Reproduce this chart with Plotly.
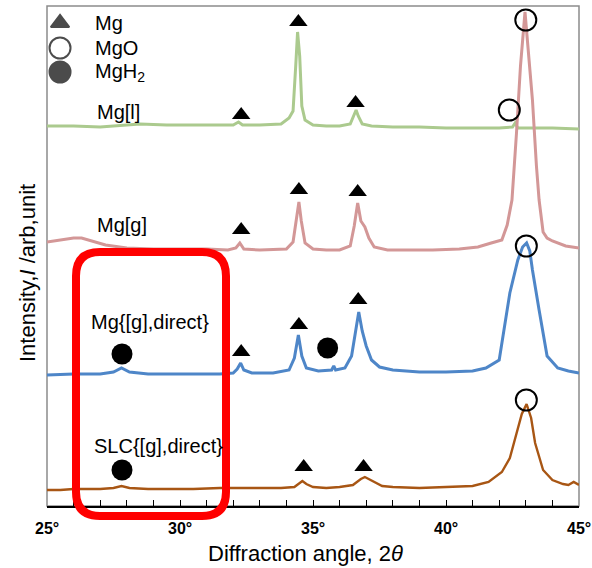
import plotly.graph_objects as go

# ---- data (2θ in degrees, intensity in arbitrary offset units) ----
mgl_x = [25.0, 26.0, 27.0, 27.5, 28.5, 29.5, 30.5, 31.5, 32.0, 32.2, 32.35, 33.0, 33.8, 34.1, 34.25, 34.35, 34.42, 34.5, 34.58, 34.7, 35.0, 35.5, 36.0, 36.4, 36.55, 36.62, 36.7, 36.85, 37.2, 38.0, 39.0, 40.0, 41.0, 42.0, 42.5, 42.6, 42.7, 43.5, 44.0, 45.0]
mgl_y = [380, 380, 379, 380, 382, 381, 381, 381, 381, 384, 381, 381, 382, 388, 395, 440, 474, 450, 400, 386, 381, 380, 380, 382, 392, 396, 390, 382, 380, 379, 379, 378, 378, 378, 379, 383, 378, 378, 378, 377]

mgg_x = [25.0, 25.5, 26.0, 26.3, 26.8, 27.2, 28.0, 29.0, 30.0, 31.0, 31.8, 32.1, 32.25, 32.4, 33.0, 34.0, 34.25, 34.38, 34.47, 34.56, 34.7, 35.0, 35.5, 36.0, 36.4, 36.55, 36.68, 36.8, 36.95, 37.1, 37.3, 37.8, 38.5, 39.5, 40.5, 41.2, 41.7, 42.1, 42.3, 42.48, 42.65, 42.8, 42.97, 43.15, 43.25, 43.4, 43.5, 43.65, 43.8, 44.0, 44.5, 45.0]
mgg_y = [264, 266, 268, 268, 264, 261, 258, 257, 257, 257, 256, 258, 263, 257, 256, 257, 264, 285, 304, 285, 263, 257, 256, 256, 260, 280, 303, 285, 279, 268, 259, 256, 256, 256, 257, 259, 263, 266, 281, 306, 373, 440, 494, 440, 406, 340, 306, 274, 268, 265, 260, 258]

mgd_x = [25.0, 26.0, 27.0, 27.5, 27.8, 28.1, 28.8, 29.5, 30.5, 31.5, 32.0, 32.15, 32.28, 32.4, 32.7, 33.5, 34.1, 34.3, 34.45, 34.58, 34.75, 35.2, 35.7, 35.78, 35.85, 36.2, 36.45, 36.6, 36.72, 36.85, 37.0, 37.2, 37.5, 38.0, 39.0, 40.0, 41.0, 41.5, 42.0, 42.4, 42.7, 42.88, 43.03, 43.15, 43.25, 43.5, 43.8, 44.2, 44.6, 45.0]
mgd_y = [131, 132, 132, 134, 138, 134, 132, 132, 132, 132, 133, 137, 143, 136, 133, 133, 136, 148, 171, 150, 138, 135, 136, 140, 136, 138, 150, 175, 194, 175, 160, 146, 139, 136, 134, 134, 135, 138, 146, 213, 246, 259, 263, 255, 236, 196, 150, 138, 135, 133]

slc_x = [25.0, 25.5, 26.0, 27.0, 27.5, 27.8, 28.1, 28.8, 29.5, 30.5, 31.5, 32.3, 33.0, 33.8, 34.3, 34.45, 34.6, 34.75, 35.0, 35.5, 36.0, 36.5, 36.8, 36.95, 37.1, 37.3, 37.6, 38.0, 39.0, 40.0, 41.0, 41.6, 42.1, 42.4, 42.65, 42.85, 43.03, 43.2, 43.35, 43.65, 44.0, 44.4, 44.6, 44.8, 45.0]
slc_y = [16, 16, 17, 17, 18, 20, 18, 17, 17, 17, 18, 18, 18, 18, 19, 22, 25, 22, 19, 18, 19, 21, 27, 29, 27, 24, 20, 19, 18, 19, 20, 24, 34, 48, 73, 92, 102, 88, 63, 36, 26, 22, 21, 24, 21]

# phase markers
mg_mark_x = [32.3, 34.45, 36.6, 32.3, 34.47, 36.68, 32.3, 34.47, 36.7, 34.65, 36.9]
mg_mark_y = [391, 484, 403, 276, 316, 314, 154, 181, 206, 39, 39]
mgo_mark_x = [43.0, 42.38, 43.02, 43.02]
mgo_mark_y = [486, 396, 260, 106]
mgh2_mark_x = [27.82, 35.55, 27.82]
mgh2_mark_y = [152, 158, 36]

legend_marks_x = [25.49, 25.49, 25.49]
legend_marks_y = [483, 458, 434]
legend_symbols = ["triangle-up", "circle-open", "circle"]
legend_texts = ["Mg", "MgO", "MgH<sub>2</sub>"]

series_labels = ["Mg[l]", "Mg[g]", "Mg{[g],direct}", "SLC{[g],direct}"]
label_x = [26.8, 26.8, 28.87, 29.2]
label_y = [394, 281, 184, 60]
label_anchor = ["left", "left", "center", "center"]

tick_vals = [25, 30, 35, 40, 45]
tick_text = ["<b>25°</b>", "<b>30°</b>", "<b>35°</b>", "<b>40°</b>", "<b>45°</b>"]

FONT = "Liberation Sans, Arial, sans-serif"

fig = go.Figure()
series = [
    (mgl_x, mgl_y, "#abca8e", 3),
    (mgg_x, mgg_y, "#d39797", 3),
    (mgd_x, mgd_y, "#4e86c8", 3),
    (slc_x, slc_y, "#a85614", 2.4),
]
for xs, ys, col, w in series:
    fig.add_trace(go.Scatter(x=xs, y=ys, mode="lines", line=dict(color=col, width=w),
                             showlegend=False, hoverinfo="skip"))

fig.add_trace(go.Scatter(x=mg_mark_x, y=mg_mark_y, mode="markers",
                         marker=dict(symbol="triangle-up", size=16, color="black"),
                         showlegend=False))
fig.add_trace(go.Scatter(x=mgo_mark_x, y=mgo_mark_y, mode="markers",
                         marker=dict(symbol="circle-open", size=21, color="black", line=dict(width=2)),
                         showlegend=False))
fig.add_trace(go.Scatter(x=mgh2_mark_x, y=mgh2_mark_y, mode="markers",
                         marker=dict(symbol="circle", size=21, color="black"),
                         showlegend=False))
fig.add_trace(go.Scatter(x=legend_marks_x, y=legend_marks_y, mode="markers",
                         marker=dict(symbol=legend_symbols, size=[16, 21, 21], color="black",
                                     line=dict(width=2, color="black")),
                         showlegend=False))

annotations = []
for t, yy in zip(legend_texts, legend_marks_y):
    annotations.append(dict(x=26.73, y=yy, xref="x", yref="y", text=t, showarrow=False,
                            xanchor="left", yanchor="middle", font=dict(size=20, color="black", family=FONT)))
for t, xx, yy, an in zip(series_labels, label_x, label_y, label_anchor):
    annotations.append(dict(x=xx, y=yy, xref="x", yref="y", text=t, showarrow=False,
                            xanchor=an, yanchor="middle", font=dict(size=20, color="black", family=FONT)))
# tick labels (drawn as annotations so that the last one may run past the edge, as in the reference)
for tv, tt in zip(tick_vals, tick_text):
    annotations.append(dict(x=tv, y=(506 - 528) / 500, xref="x", yref="paper", text=tt, showarrow=False,
                            xanchor="center", yanchor="middle", font=dict(size=16, color="black", family=FONT)))
annotations.append(dict(x=(305 - 47) / 532, y=(506 - 553) / 500, xref="paper", yref="paper",
                        text="Diffraction angle, 2<i>θ</i>",
                        showarrow=False, xanchor="center", yanchor="middle",
                        font=dict(size=22, color="black", family=FONT)))
annotations.append(dict(x=(27 - 47) / 532, y=(506 - 273) / 500, xref="paper", yref="paper",
                        text="Intensity,<i>I</i> /arb,unit",
                        showarrow=False, xanchor="center", yanchor="middle", textangle=-90,
                        font=dict(size=22, color="black", family=FONT)))

# red rounded rectangle (paper coordinates from plot-area fractions)
W, H = 532.0, 500.0
def px(p): return (p - 47) / W
def py(p): return (506 - p) / H
L, R, T, B, r = 76, 226, 252, 516, 24
path = (f"M {px(L + r)},{py(T)} L {px(R - r)},{py(T)} Q {px(R)},{py(T)} {px(R)},{py(T + r)} "
        f"L {px(R)},{py(B - r)} Q {px(R)},{py(B)} {px(R - r)},{py(B)} "
        f"L {px(L + r)},{py(B)} Q {px(L)},{py(B)} {px(L)},{py(B - r)} "
        f"L {px(L)},{py(T + r)} Q {px(L)},{py(T)} {px(L + r)},{py(T)} Z")

shapes = [
    dict(type="rect", xref="paper", yref="paper", x0=0, x1=1, y0=0, y1=1,
         line=dict(color="#8c8c8c", width=1.5), layer="below"),
    dict(type="path", xref="paper", yref="paper", path=path,
         line=dict(color="#ff0000", width=8), layer="above"),
]

fig.update_layout(
    width=592, height=568,
    margin=dict(l=47, r=13, t=6, b=62),
    paper_bgcolor="white", plot_bgcolor="white",
    font=dict(family=FONT, color="black"),
    annotations=annotations, shapes=shapes,
    xaxis=dict(range=[25, 45], tickvals=tick_vals, showticklabels=False,
               ticks="inside", ticklen=6, tickcolor="black", tickwidth=1,
               minor=dict(dtick=1, ticks="inside", ticklen=6, tickcolor="black", tickwidth=1),
               showline=True, linecolor="black", linewidth=1.5, showgrid=False, zeroline=False),
    yaxis=dict(range=[0, 500], showticklabels=False, ticks="", showgrid=False, zeroline=False,
               showline=False),
)

fig.write_html("out.html", config={"displayModeBar": False},
               post_script="document.body.style.margin='0px';")
